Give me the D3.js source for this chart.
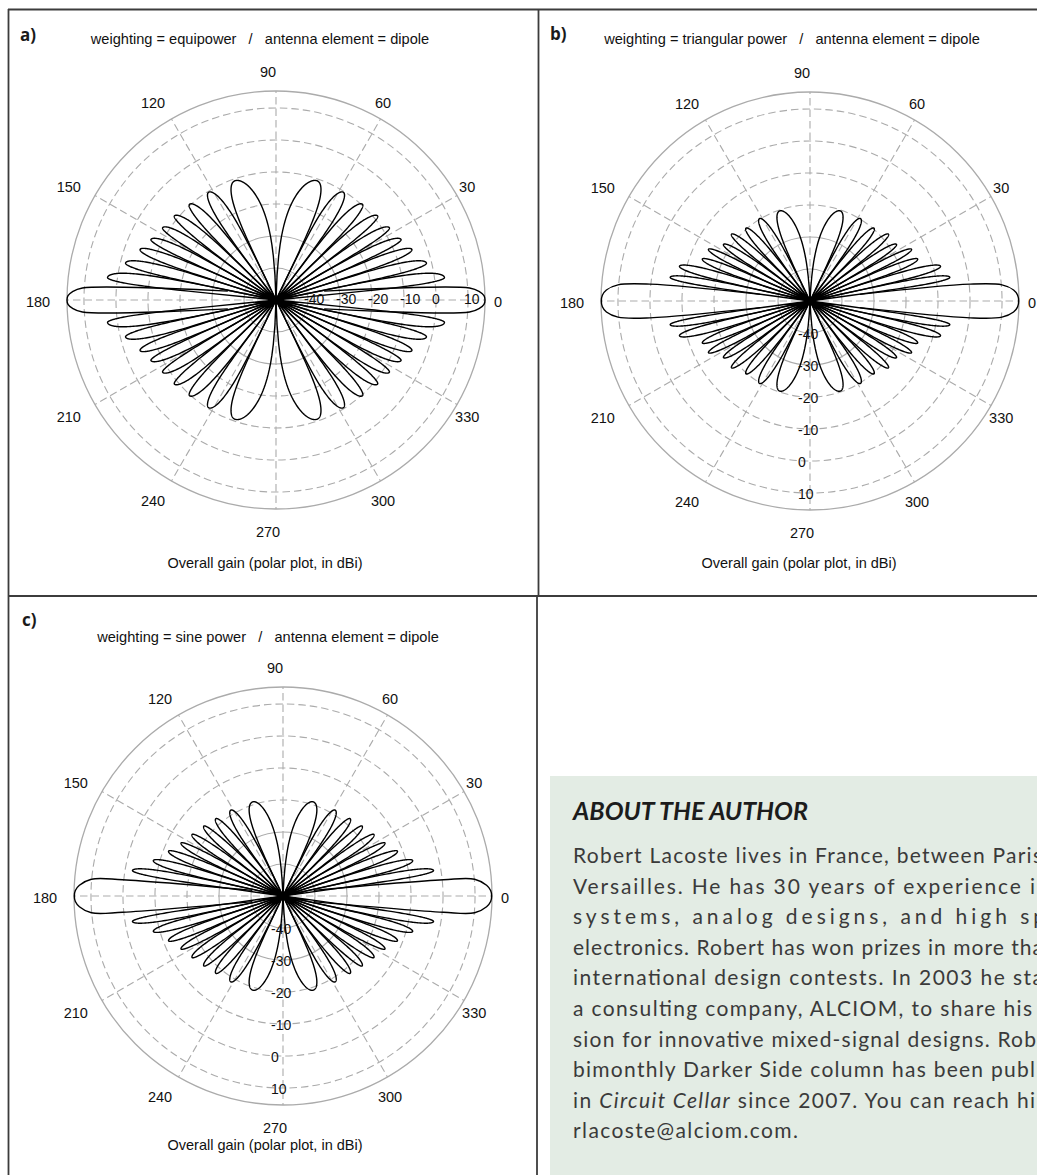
<!DOCTYPE html>
<html><head><meta charset="utf-8">
<script src="https://cdn.jsdelivr.net/npm/d3@7"></script>
<style>html,body{margin:0;padding:0;background:#fff;overflow:hidden}</style>
</head><body>
<svg id="chart" width="1037" height="1175" xmlns="http://www.w3.org/2000/svg"></svg>
<script>
// ---------------- DATA ----------------
const angleTicks = [0, 30, 60, 90, 120, 150, 180, 210, 240, 270, 300, 330];
const ringTicks = [-40, -30, -20, -10, 0, 10];
const dbFloor = -50;      // centre of the polar plot (dBi)
const dbOuter = 15.3;     // outer circle (dBi)

const panelLetters = ["a)", "b)", "c)"];
const panelTitles = [
  "weighting = equipower   /   antenna element = dipole",
  "weighting = triangular power   /   antenna element = dipole",
  "weighting = sine power   /   antenna element = dipole"
];
const axisTitle = "Overall gain (polar plot, in dBi)";

// Main lobe outline (upper half, deg / dBi)
const mainAngA = [0, 1.2, 2.3, 3.55, 10.5];
const mainDbA  = [15.3, 15.0, 13.7, 10.6, -34.7];
const mainAngB = [0, 1.6, 3.1, 4.8, 6.0, 7.6];
const mainDbB  = [15.2, 14.9, 13.7, 10.2, 0.3, -34.3];
const mainAngC = [0, 1.5, 3.0, 5.0, 5.8, 10.5];
const mainDbC  = [15.2, 14.9, 13.7, 10.1, 0.4, -40.3];

// Side lobes of the first quadrant (0..90 deg); pattern is symmetric about both axes.
// nulls: null angles bounding the lobes (deg); peakAng / peakDb: lobe tips.
const nullsA   = [5.7, 11.5, 17.5, 23.6, 30, 36.9, 44.4, 53.1, 64.2, 90];
const peakAngA = [7.6, 13.8, 20.4, 25.8, 32.5, 39.6, 47.9, 58, 71];
const peakDbA  = [3.1, -1.6, -4.7, -6.6, -8.0, -8.8, -9.7, -10.3, -10.6];

const nullsB   = [7.7, 12.3, 18, 24, 30, 37, 44.4, 53.1, 64.2, 90];
const peakAngB = [9.6, 14.9, 21.3, 27, 33.2, 40.4, 48.7, 58.5, 71.4];
const peakDbB  = [-5.7, -7.8, -13.9, -14.4, -17.7, -17.8, -19.7, -19.8, -20.3];

const nullsC   = [7.9, 12.3, 18, 24, 30, 37, 44.4, 53.1, 64.2, 90];
const peakAngC = [9.6, 15.3, 21.4, 27.5, 34.1, 41.5, 49, 58.7, 72.2];
const peakDbC  = [-2.3, -8.0, -11.6, -14.1, -15.7, -17.0, -18.0, -18.6, -19.1];

const authorTitle = "ABOUT THE AUTHOR";
const authorLines = [
  ["Robert Lacoste lives in France, between Paris"],
  ["Versailles. He has 30 years of experience i"],
  ["systems, analog designs, and high sp"],
  ["electronics. Robert has won prizes in more tha"],
  ["international design contests. In 2003 he sta"],
  ["a consulting company, ALCIOM, to share his"],
  ["sion for innovative mixed-signal designs. Rob"],
  ["bimonthly Darker Side column has been publ"],
  ["in ", {i: "Circuit Cellar"}, " since 2007. You can reach hi"],
  ["rlacoste@alciom.com."]
];

// ---------------- LAYOUT ----------------
const W = 1037, H = 1175, R = 209;
const panels = [
  {cx: 276, cy: 300, tx: 260, ty: 44, lx: 20, ly: 41, ax: 265, ay: 568, ring: "right",
   mAng: mainAngA, mDb: mainDbA, nulls: nullsA, pAng: peakAngA, pDb: peakDbA},
  {cx: 810, cy: 301, tx: 792, ty: 44, lx: 550, ly: 40, ax: 799, ay: 568, ring: "down",
   mAng: mainAngB, mDb: mainDbB, nulls: nullsB, pAng: peakAngB, pDb: peakDbB},
  {cx: 283, cy: 896, tx: 268, ty: 642, lx: 22, ly: 626, ax: 265, ay: 1150, ring: "down",
   mAng: mainAngC, mDb: mainDbC, nulls: nullsC, pAng: peakAngC, pDb: peakDbC}
];
const textLens = [469, 462, 472, 470, 470, 459, 463, 462, 462, 225];

const svg = d3.select("#chart");
svg.append("rect").attr("width", W).attr("height", H).attr("fill", "#fff");

const rScale = d3.scaleLinear().domain([dbFloor, dbOuter]).range([0, R]).clamp(true);
const toRad = d => d * Math.PI / 180;

// lobe drawn between two nulls, peaking at pk (shape of an array-factor lobe in sin-space)
function lobe(a0, pk, a1, g) {
  const ua = Math.sin(toRad(a0)), uc = Math.sin(toRad(pk)), ub = Math.sin(toRad(a1));
  const n = 60, pts = [];
  for (let i = 0; i <= n; i++) {
    const u = ua + (uc - ua) * i / n, x = 0.5 * i / n;
    pts.push([Math.asin(u) * 180 / Math.PI, g + 20 * Math.log10(Math.max(Math.sin(Math.PI * x), 1e-9))]);
  }
  for (let i = 1; i <= n; i++) {
    const u = uc + (ub - uc) * i / n, x = 0.5 + 0.5 * i / n;
    pts.push([Math.asin(Math.min(u, 1)) * 180 / Math.PI, g + 20 * Math.log10(Math.max(Math.sin(Math.PI * x), 1e-9))]);
  }
  return pts;
}

const radial = d3.lineRadial()
  .angle(d => toRad(90 - d[0]))
  .radius(d => rScale(d[1]))
  .curve(d3.curveLinear);
const radialMain = d3.lineRadial()
  .angle(d => toRad(90 - d[0]))
  .radius(d => rScale(d[1]))
  .curve(d3.curveCatmullRom.alpha(0.5));

const gridCol = "#ababab";
const font = "Liberation Sans, Arial, Helvetica, sans-serif";

panels.forEach((p, pi) => {
  const g = svg.append("g").attr("transform", `translate(${p.cx},${p.cy})`);
  // rings
  ringTicks.forEach(t => {
    g.append("circle").attr("r", rScale(t)).attr("fill", "none")
      .attr("stroke", gridCol).attr("stroke-width", 1.1)
      .attr("stroke-dasharray", t <= -30 ? null : "7.5,4");
  });
  g.append("circle").attr("r", R).attr("fill", "none").attr("stroke", gridCol).attr("stroke-width", 1.3);
  // spokes
  angleTicks.forEach(a => {
    g.append("line").attr("x1", 0).attr("y1", 0)
      .attr("x2", R * Math.cos(toRad(a))).attr("y2", -R * Math.sin(toRad(a)))
      .attr("stroke", gridCol).attr("stroke-width", 1.1).attr("stroke-dasharray", "7.5,4");
  });
  // main lobes (0 and 180 deg)
  const upper = p.mAng.map((a, i) => [a, p.mDb[i]]);
  const full = upper.slice().reverse().map(q => [-q[0], q[1]]).concat(upper.slice(1));
  const mains = [full, full.map(q => [180 - q[0], q[1]])];
  g.selectAll("path.main").data(mains).join("path").attr("class", "main")
    .attr("d", radialMain).attr("fill", "none").attr("stroke", "#000")
    .attr("stroke-width", 1.4).attr("stroke-linejoin", "round");
  // side lobes
  const lobes = [];
  p.pAng.forEach((pk, k) => {
    const base = lobe(p.nulls[k], pk, p.nulls[k + 1], p.pDb[k]);
    [d => d, d => 180 - d, d => 180 + d, d => 360 - d]
      .forEach(m => lobes.push(base.map(q => [m(q[0]), q[1]])));
  });
  g.selectAll("path.lobe").data(lobes).join("path").attr("class", "lobe")
    .attr("d", radial).attr("fill", "none").attr("stroke", "#000")
    .attr("stroke-width", 1.4).attr("stroke-linejoin", "round");
  // ring labels
  ringTicks.forEach(t => {
    const txt = g.append("text").text(t)
      .attr("font-family", font).attr("font-size", 14)
      .attr("fill", "#111").attr("dominant-baseline", "central").attr("text-anchor", "start");
    if (p.ring === "right") txt.attr("x", rScale(t) - 4).attr("y", -1);
    else txt.attr("x", -12).attr("y", rScale(t) + 1);
  });
  // angle labels
  angleTicks.forEach(a => {
    g.append("text").text(a)
      .attr("x", -8 + 230 * Math.cos(toRad(a))).attr("y", 2 - 230 * Math.sin(toRad(a)))
      .attr("font-family", font).attr("font-size", 14.5)
      .attr("fill", "#111").attr("text-anchor", "middle").attr("dominant-baseline", "central");
  });
  // titles
  svg.append("text").text(panelTitles[pi]).attr("x", p.tx).attr("y", p.ty)
    .attr("font-family", font).attr("font-size", 14.6)
    .attr("fill", "#111").attr("text-anchor", "middle").style("white-space", "pre");
  svg.append("text").text(axisTitle).attr("x", p.ax).attr("y", p.ay)
    .attr("font-family", font).attr("font-size", 14.5)
    .attr("fill", "#111").attr("text-anchor", "middle");
  svg.append("text").text(panelLetters[pi]).attr("x", p.lx).attr("y", p.ly)
    .attr("font-family", "Open Sans, sans-serif").attr("font-weight", 700).attr("font-size", 17)
    .attr("fill", "#1a1a1a");
});

// frame lines
const frame = [[8, 9.5, 1037, 9.5], [8.5, 9, 8.5, 1175], [538.5, 9, 538.5, 596],
               [8, 596, 1037, 596], [537, 596, 537, 1175]];
svg.selectAll("line.frame").data(frame).join("line").attr("class", "frame")
  .attr("x1", d => d[0]).attr("y1", d => d[1]).attr("x2", d => d[2]).attr("y2", d => d[3])
  .attr("stroke", "#3c3c3c").attr("stroke-width", 1.8);

// author box
svg.append("rect").attr("x", 550).attr("y", 776).attr("width", W - 550).attr("height", H - 776)
  .attr("fill", "#e3ece4");
svg.append("text").text(authorTitle).attr("x", 573).attr("y", 820)
  .attr("font-family", "Lato, Open Sans, sans-serif").attr("font-weight", 700).attr("font-style", "italic")
  .attr("font-size", 24).attr("fill", "#1c1c1c")
  .attr("textLength", 235).attr("lengthAdjust", "spacingAndGlyphs");
authorLines.forEach((parts, i) => {
  const t = svg.append("text").attr("x", 573).attr("y", 863 + i * 30.6)
    .attr("font-family", "Lato, Open Sans, sans-serif").attr("font-size", 21)
    .attr("fill", "#3a3a3a").attr("textLength", textLens[i]).attr("lengthAdjust", "spacing")
    .style("white-space", "pre");
  parts.forEach(s => {
    if (typeof s === "string") t.append("tspan").text(s);
    else t.append("tspan").attr("font-style", "italic").text(s.i);
  });
});
</script>
</body></html>
